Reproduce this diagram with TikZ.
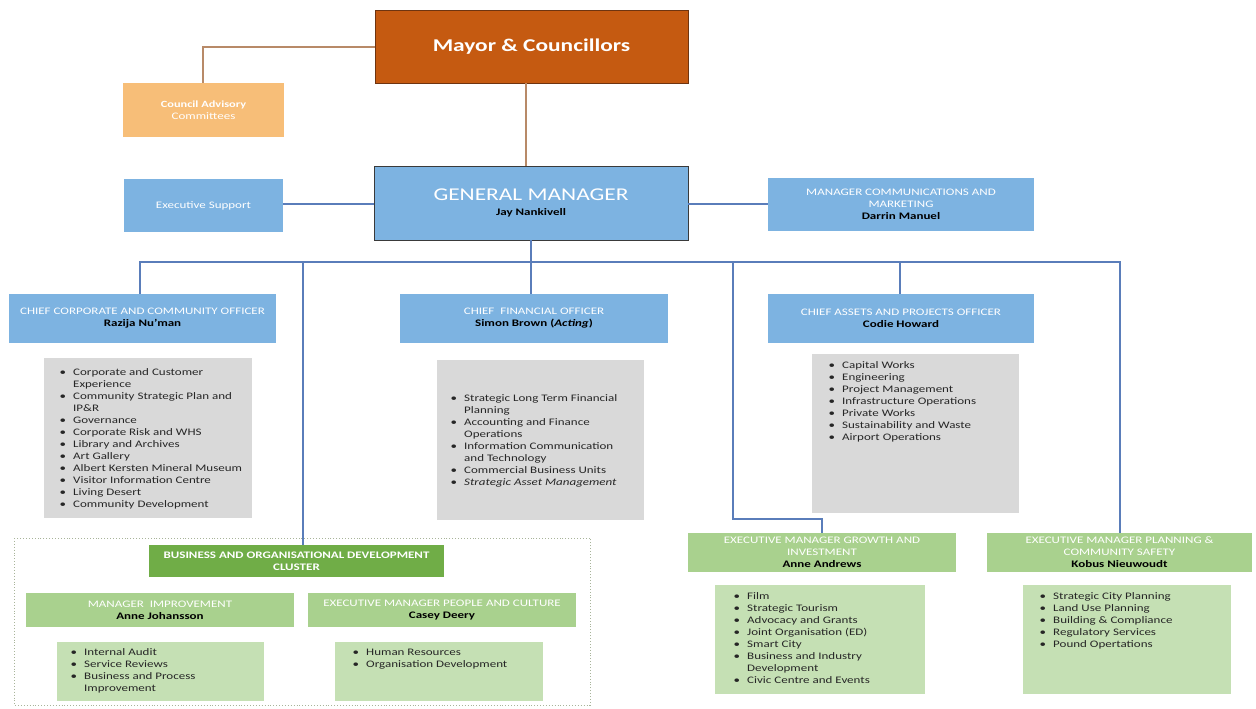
\documentclass[tikz,border=0pt]{standalone}
\usepackage{fontspec}
\setmainfont{Carlito}[FakeStretch=1.3]
\usetikzlibrary{calc}

\definecolor{mayorfill}{HTML}{C55A11}
\definecolor{mayorline}{HTML}{6E3410}
\definecolor{advfill}{HTML}{F7BE78}
\definecolor{bluefill}{HTML}{7DB3E1}
\definecolor{gmline}{HTML}{3A3A3A}
\definecolor{greyfill}{HTML}{D9D9D9}
\definecolor{clusterfill}{HTML}{70AD47}
\definecolor{titlegreen}{HTML}{A9D18E}
\definecolor{listgreen}{HTML}{C5E0B4}
\definecolor{busline}{HTML}{5A7DBA}
\definecolor{brownline}{HTML}{B88A68}
\definecolor{dotline}{HTML}{A8B49A}
\definecolor{listtext}{HTML}{262626}

\newcommand{\bul}{\makebox[13.5pt][l]{\textbullet}}

\tikzset{
  base/.style={rectangle, inner sep=0pt, align=center,
    font=\fontsize{10}{12}\selectfont},
  mayorbox/.style={base, fill=mayorfill, draw=mayorline, line width=0.8pt, text=white},
  advbox/.style={base, fill=advfill, text=white},
  gmbox/.style={base, fill=bluefill, draw=gmline, line width=0.9pt, text=white},
  bluebox/.style={base, fill=bluefill, text=white},
  greybox/.style={base, fill=greyfill},
  clusterbox/.style={base, fill=clusterfill, text=white},
  greentitle/.style={base, fill=titlegreen, text=white},
  greenlist/.style={base, fill=listgreen},
  listnode/.style={inner sep=0pt, anchor=north west, text=listtext,
    font=\fontsize{10}{12}\selectfont},
  brownlink/.style={draw=brownline, line width=1.1pt},
  buslink/.style={draw=busline, line width=1.1pt},
}

\begin{document}
\begin{tikzpicture}[x=1pt,y=-1pt]
\useasboundingbox[fill=white] (0,0) rectangle (1256,709);

% ---- council level ----
\node[mayorbox, minimum width=313pt, minimum height=73pt] (mayor) at (531.5,46.5)
  {\fontsize{18}{20}\selectfont\bfseries Mayor \& Councillors};
\node[advbox, minimum width=161pt, minimum height=54pt] (adv) at (203.5,110)
  {\bfseries\fontsize{9.5}{13}\selectfont Council Advisory\\Committees};

% ---- general manager level ----
\node[gmbox, minimum width=314pt, minimum height=74pt] (gm) at (531,203)
  {\fontsize{18}{18}\selectfont GENERAL MANAGER\\[3pt]
   \fontsize{10}{12}\selectfont\color{black}\bfseries Jay Nankivell};
\node[bluebox, minimum width=159pt, minimum height=53pt] (exs) at (203.5,205.5)
  {Executive Support};
\node[bluebox, minimum width=266pt, minimum height=53pt] (comms) at (901,204.5)
  {MANAGER COMMUNICATIONS AND\\MARKETING\\{\color{black}\bfseries Darrin Manuel}};

% ---- chief officers ----
\node[bluebox, minimum width=267pt, minimum height=49pt] (ccco) at (142.5,318.5)
  {CHIEF CORPORATE AND COMMUNITY OFFICER\\{\color{black}\bfseries Razija Nu’man}};
\node[bluebox, minimum width=268pt, minimum height=49pt] (cfo) at (534,318.5)
  {CHIEF\ \ FINANCIAL OFFICER\\{\color{black}\bfseries Simon Brown (\textit{Acting})}};
\node[bluebox, minimum width=266pt, minimum height=49pt] (capo) at (901,318.5)
  {CHIEF ASSETS AND PROJECTS OFFICER\\{\color{black}\bfseries Codie Howard}};

% ---- function lists under the chief officers ----
\node[greybox, minimum width=208pt, minimum height=160pt] (g1) at (148,438) {};
\node[greybox, minimum width=207pt, minimum height=160pt] (g2) at (540.5,440) {};
\node[greybox, minimum width=207pt, minimum height=159pt] (g3) at (915.5,433.5) {};

\node[listnode] (l1) at (59.5,367) {\begin{tabular}{@{}l@{}l@{}}
\bul & Corporate and Customer\\
     & Experience\\
\bul & Community Strategic Plan and\\
     & IP\&R\\
\bul & Governance\\
\bul & Corporate Risk and WHS\\
\bul & Library and Archives\\
\bul & Art Gallery\\
\bul & Albert Kersten Mineral Museum\\
\bul & Visitor Information Centre\\
\bul & Living Desert\\
\bul & Community Development
\end{tabular}};

\node[listnode] (l2) at (450.5,393) {\begin{tabular}{@{}l@{}l@{}}
\bul & Strategic Long Term Financial\\
     & Planning\\
\bul & Accounting and Finance\\
     & Operations\\
\bul & Information Communication\\
     & and Technology\\
\bul & Commercial Business Units\\
\bul & \textit{Strategic Asset Management}
\end{tabular}};

\node[listnode] (l3) at (828.5,360) {\begin{tabular}{@{}l@{}l@{}}
\bul & Capital Works\\
\bul & Engineering\\
\bul & Project Management\\
\bul & Infrastructure Operations\\
\bul & Private Works\\
\bul & Sustainability and Waste\\
\bul & Airport Operations
\end{tabular}};

% ---- business and organisational development cluster ----
\draw[dotline, dotted, line width=0.9pt] (14,538) rectangle (590,705);
\node[clusterbox, minimum width=295pt, minimum height=32pt] (cluster) at (296.5,561)
  {\bfseries BUSINESS AND ORGANISATIONAL DEVELOPMENT\\\bfseries CLUSTER};
\node[greentitle, minimum width=268pt, minimum height=34pt] (mi) at (160,610)
  {MANAGER\ \ IMPROVEMENT\\{\color{black}\bfseries Anne Johansson}};
\node[greentitle, minimum width=268pt, minimum height=34pt] (empc) at (442,610)
  {EXECUTIVE MANAGER PEOPLE AND CULTURE\\{\color{black}\bfseries Casey Deery}};
\node[greenlist, minimum width=207pt, minimum height=59pt] (b1) at (160.5,671.5) {};
\node[greenlist, minimum width=208pt, minimum height=59pt] (b2) at (439,671.5) {};

\node[listnode] (l4) at (70.5,647) {\begin{tabular}{@{}l@{}l@{}}
\bul & Internal Audit\\
\bul & Service Reviews\\
\bul & Business and Process\\
     & Improvement
\end{tabular}};
\node[listnode] (l5) at (352.5,647) {\begin{tabular}{@{}l@{}l@{}}
\bul & Human Resources\\
\bul & Organisation Development
\end{tabular}};

% ---- executive managers ----
\node[greentitle, minimum width=268pt, minimum height=39pt] (emgi) at (822,552.5)
  {EXECUTIVE MANAGER GROWTH AND\\INVESTMENT\\{\color{black}\bfseries Anne Andrews}};
\node[greentitle, minimum width=265pt, minimum height=39pt] (emcs) at (1119.5,552.5)
  {EXECUTIVE MANAGER PLANNING \&\\COMMUNITY SAFETY\\{\color{black}\bfseries Kobus Nieuwoudt}};
\node[greenlist, minimum width=210pt, minimum height=109pt] (b3) at (820,639.5) {};
\node[greenlist, minimum width=208pt, minimum height=109pt] (b4) at (1127,639.5) {};

\node[listnode] (l6) at (733.5,591) {\begin{tabular}{@{}l@{}l@{}}
\bul & Film\\
\bul & Strategic Tourism\\
\bul & Advocacy and Grants\\
\bul & Joint Organisation (ED)\\
\bul & Smart City\\
\bul & Business and Industry\\
     & Development\\
\bul & Civic Centre and Events
\end{tabular}};
\node[listnode] (l7) at (1039.5,591) {\begin{tabular}{@{}l@{}l@{}}
\bul & Strategic City Planning\\
\bul & Land Use Planning\\
\bul & Building \& Compliance\\
\bul & Regulatory Services\\
\bul & Pound Opertations
\end{tabular}};

% ---- connectors ----
\coordinate (bus) at (531,262);
\draw[brownlink] (mayor.west |- 0,47) -| (adv.north -| 203,0);
\draw[brownlink] (mayor.south -| 526,0) -- (gm.north -| 526,0);
\draw[buslink] (gm.west |- 0,204) -- (exs.east |- 0,204);
\draw[buslink] (gm.east |- 0,204) -- (comms.west |- 0,204);
\draw[buslink] (gm.south -| 531,0) -- (bus);
\draw[buslink] (ccco.north -| 140,0) |- (bus) -| (emcs.north -| 1120,0);
\draw[buslink] (cluster.north -| 303,0) -- (303,262);
\draw[buslink] (cfo.north -| 531,0) -- (bus);
\draw[buslink] (capo.north -| 900,0) -- (900,262);
\draw[buslink] (733,262) -- (733,519) -| (emgi.north);
\end{tikzpicture}
\end{document}
